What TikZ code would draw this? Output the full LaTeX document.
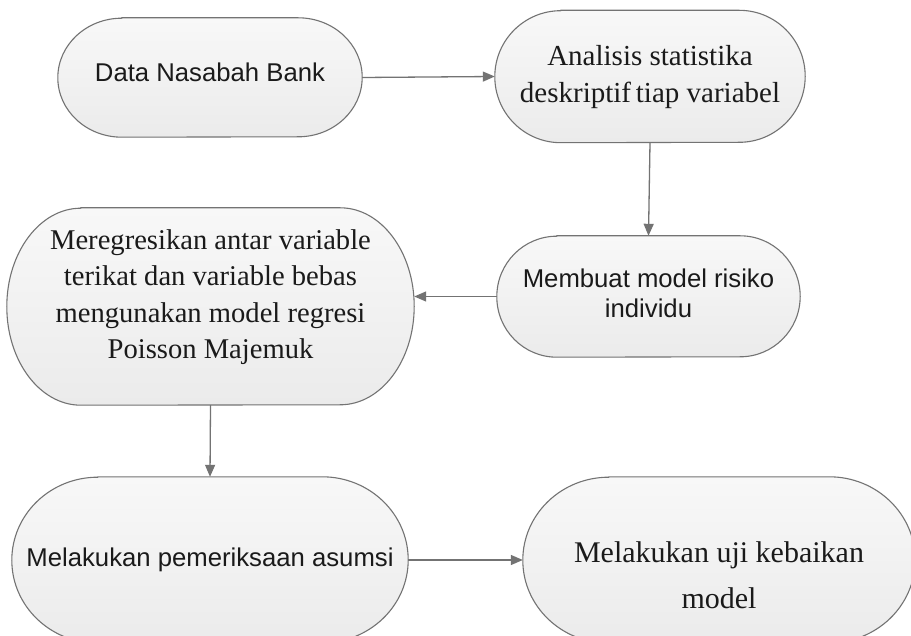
\documentclass[tikz,border=0pt]{standalone}
\usepackage{fontspec}
\setmainfont{Liberation Serif}
\newfontfamily\arialf{Liberation Sans}
\usetikzlibrary{arrows.meta}
\pgfdeclarelayer{background}
\pgfdeclarelayer{canvas}
\pgfsetlayers{canvas,background,main}
\definecolor{lc}{HTML}{737373}
\definecolor{pftop}{HTML}{F8F8F8}
\definecolor{pfbot}{HTML}{EBEBEB}
\definecolor{txt}{HTML}{1A1A1A}
\newcommand\shiftedtext[2]{\raisebox{#1}[\height][\depth]{\begin{tabular}{@{}c@{}}#2\end{tabular}}}
\newcommand\pillshape[3]{%
  \begin{pgfonlayer}{background}
  \path[pillborder] ([xshift=#2pt]#1.north west) -- ([xshift=-#2pt]#1.north east)
    arc[start angle=90,end angle=-90,x radius=#2pt,y radius=#3pt]
    -- ([xshift=#2pt]#1.south west)
    arc[start angle=270,end angle=90,x radius=#2pt,y radius=#3pt] -- cycle;
  \end{pgfonlayer}}
\tikzset{
  pill/.style={draw=none, inner sep=0pt, align=center, text=txt},
  pillborder/.style={draw=lc, line width=1.1pt, top color=pftop, bottom color=pfbot},
  sanstext/.style={font=\arialf\fontsize{25.7}{30.5}\selectfont},
  seriftext/.style={font=\fontsize{29}{36.8}\selectfont},
  link/.style={draw=lc, line width=1.3pt, -{Triangle[length=12pt,width=10pt]}},
}
\begin{document}
\begin{tikzpicture}[x=1pt,y=-1pt]
\useasboundingbox (0,0) rectangle (911,636);
\clip (0,0) rectangle (911,636);
\begin{pgfonlayer}{canvas}
\fill[white] (0,0) rectangle (911,636);
\end{pgfonlayer}

\node[pill, sanstext, minimum width=304pt, minimum height=119pt] (n1) at (210,77.5) {\shiftedtext{2pt}{Data Nasabah Bank}};
\node[pill, seriftext, minimum width=310pt, minimum height=132pt] (n2) at (650,76.5) {\shiftedtext{0pt}{Analisis statistika\\deskriptif\,tiap variabel}};
\node[pill, sanstext, minimum width=303pt, minimum height=121pt] (n4) at (648.5,296.5) {\shiftedtext{0pt}{Membuat model risiko\\individu}};
\node[pill, seriftext, font=\fontsize{28.6}{36.5}\selectfont, minimum width=407pt, minimum height=197pt] (n3) at (210.5,306.5) {\shiftedtext{10pt}{Meregresikan antar variable\\terikat dan variable bebas\\mengunakan model regresi\\Poisson Majemuk}};
\node[pill, sanstext, minimum width=396pt, minimum height=166pt] (n5) at (210,560) {\shiftedtext{0pt}{Melakukan pemeriksaan asumsi}};
\node[pill, font=\fontsize{30}{46}\selectfont, minimum width=392pt, minimum height=166pt] (n6) at (719,560) {\shiftedtext{-16pt}{Melakukan uji kebaikan\\model}};

\pillshape{n1}{64}{59.5}
\pillshape{n2}{66}{66}
\pillshape{n4}{60}{60.5}
\pillshape{n3}{74}{98.5}
\pillshape{n5}{86}{83}
\pillshape{n6}{86}{83}

\draw[link] (n1.east) -- (n2.west);
\draw[link] (n2.south) -- (n4.north);
\draw[link] (n4.west) -- (n4.west -| n3.east);
\draw[link] (n3.south) -- (n5.north);
\draw[link] (n5.east) -- (n6.west);
\end{tikzpicture}
\end{document}
